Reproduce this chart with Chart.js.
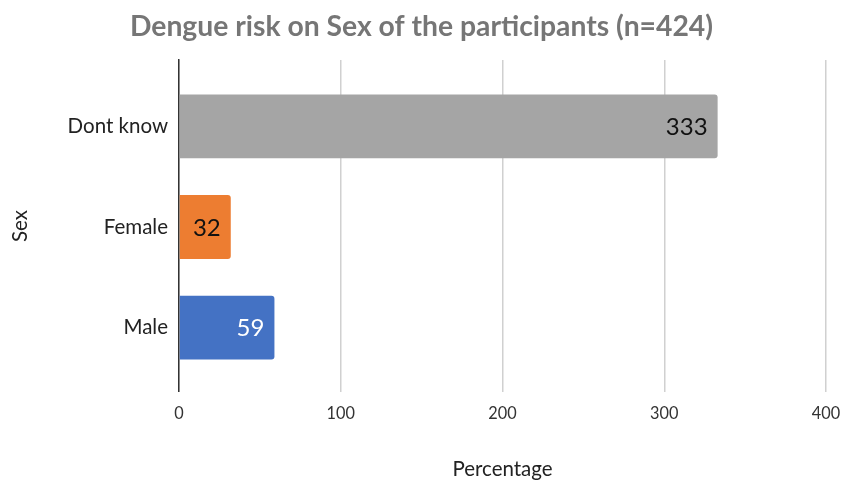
<!DOCTYPE html>
<html>
<head>
<meta charset="utf-8">
<script src="https://cdn.jsdelivr.net/npm/chart.js@4/dist/chart.umd.min.js"></script>
<style>
  body { margin: 0; background: #fff; }
  #chart { display: block; }
</style>
</head>
<body>
<canvas id="chart" width="843" height="481"></canvas>
<script>
// categories top to bottom, counts per category
const categories = ['Dont know', 'Female', 'Male'];
const counts = [333, 32, 59];
const barColors = ['#A5A5A5', '#ED7D31', '#4472C4'];
const labelColors = ['#111', '#111', '#fff'];
const xTicks = [0, 100, 200, 300, 400];

// value labels drawn inside the end of each bar
const barLabels = {
  id: 'barLabels',
  afterDatasetsDraw(chart) {
    const ctx = chart.ctx;
    const meta = chart.getDatasetMeta(0);
    ctx.save();
    ctx.font = '24px Lato';
    ctx.textAlign = 'right';
    ctx.textBaseline = 'middle';
    meta.data.forEach((bar, i) => {
      ctx.fillStyle = labelColors[i];
      ctx.fillText(String(counts[i]), bar.x - 10, bar.y + 1);
    });
    ctx.restore();
  }
};

new Chart(document.getElementById('chart'), {
  type: 'bar',
  data: {
    datasets: [{
      data: counts.map((v, i) => ({ x: v, y: i })),
      backgroundColor: barColors,
      borderRadius: 3,
      borderSkipped: 'start',
      barPercentage: 0.635,
      categoryPercentage: 1
    }]
  },
  options: {
    indexAxis: 'y',
    responsive: false,
    animation: false,
    layout: { padding: 0 },
    plugins: {
      legend: { display: false },
      tooltip: { enabled: false },
      title: {
        display: true,
        text: 'Dengue risk on Sex of the participants (n=424)',
        color: '#767676',
        font: { family: 'Lato', size: 28.3, weight: 'bold' },
        padding: { top: 10, bottom: 16 }
      }
    },
    scales: {
      x: {
        type: 'linear',
        min: xTicks[0],
        max: xTicks[xTicks.length - 1],
        afterBuildTicks: s => { s.ticks = xTicks.map(v => ({ value: v })); },
        grid: { color: '#d0d0d0', lineWidth: 1.5, drawTicks: false },
        border: { display: false },
        ticks: { color: '#333', font: { family: 'Lato', size: 16.3 }, padding: 12 },
        title: {
          display: true,
          text: 'Percentage',
          color: '#222',
          font: { family: 'Lato', size: 20.5 },
          padding: { top: 0, bottom: -1 }
        },
        // keep the plot edge fixed, labels may overhang
        afterFit: s => { s.height = 89; s.paddingLeft = 0; s.paddingRight = 17; }
      },
      y: {
        type: 'linear',
        reverse: true,
        offset: false,
        min: -0.66,
        max: 2.64,
        afterBuildTicks: s => { s.ticks = categories.map((c, i) => ({ value: i })); },
        grid: { display: false, drawTicks: false, offset: false },
        border: { display: true, color: '#333', width: 1.5 },
        ticks: {
          color: '#222',
          font: { family: 'Lato', size: 20.5 },
          padding: 11,
          callback: v => categories[v]
        },
        title: {
          display: true,
          text: 'Sex',
          color: '#222',
          font: { family: 'Lato', size: 20.5 },
          padding: { top: 8, bottom: 0 }
        },
        afterFit: s => { s.width = 179; s.paddingTop = 0; s.paddingBottom = 0; }
      }
    }
  },
  plugins: [barLabels]
});
</script>
</body>
</html>
